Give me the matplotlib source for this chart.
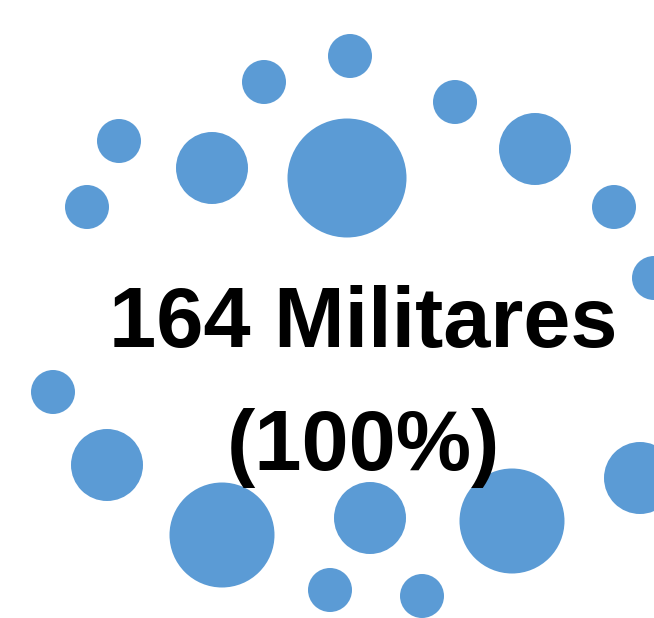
import matplotlib
matplotlib.use("Agg")
import matplotlib.pyplot as plt
from matplotlib.patches import Circle

# Bubble centres and radii (in picture pixel units, y measured downwards)
bubble_x = [350, 264, 455, 119, 212, 347, 535, 87, 614, 654,
            53, 107, 640, 222, 370, 512, 330, 422]
bubble_y = [56, 82, 102, 141, 168, 178, 149, 207, 207, 278,
            392, 465, 478, 535, 518, 521, 590, 596]
bubble_r = [22, 22, 22, 22, 36, 59.5, 36, 22, 22, 22,
            22, 36, 36, 52.5, 36, 52.5, 22, 22]

label_lines = ["164 Militares", "(100%)"]

W, H = 654, 618
fig = plt.figure(figsize=(W / 100, H / 100), dpi=100)
ax = fig.add_axes([0, 0, 1, 1])
ax.set_xlim(0, W)
ax.set_ylim(H, 0)
ax.set_aspect("equal")
ax.axis("off")

for x, y, r in zip(bubble_x, bubble_y, bubble_r):
    ax.add_patch(Circle((x, y), r, facecolor="#5B9BD5", edgecolor="none", zorder=1))

# Two lines of centred bold text over the bubbles
ax.text(363, 347, label_lines[0], ha="center", va="baseline",
        fontsize=61, fontweight="bold", family="Liberation Sans", zorder=3)
ax.text(363, 470, label_lines[1], ha="center", va="baseline",
        fontsize=61, fontweight="bold", family="Liberation Sans", zorder=3)

fig.savefig("out.png", dpi=100)
